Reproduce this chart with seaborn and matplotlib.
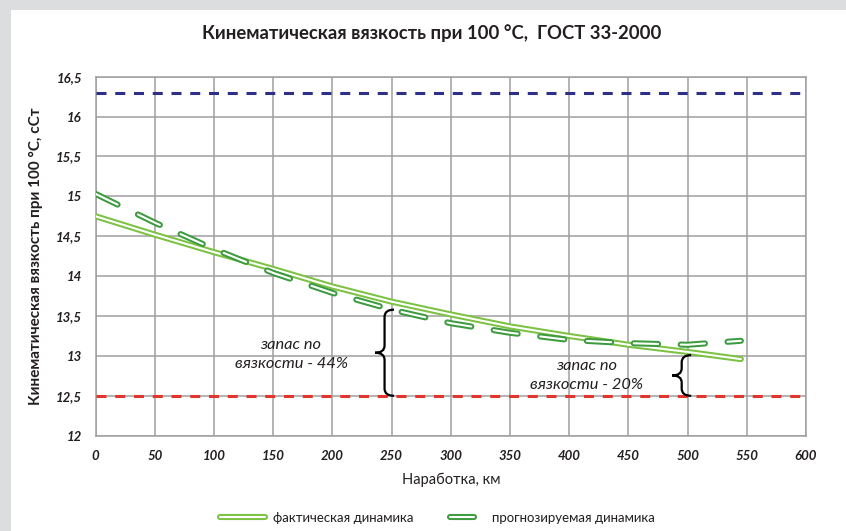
import numpy as np
import pandas as pd
import matplotlib
matplotlib.use("Agg")
import matplotlib.pyplot as plt
import matplotlib.patheffects as pe
from matplotlib.lines import Line2D
from matplotlib.patches import Rectangle, PathPatch
from matplotlib.path import Path
from matplotlib.legend_handler import HandlerBase
from matplotlib.ticker import FuncFormatter
import seaborn as sns

# ---------------- data ----------------
mileage_fact = [0, 50, 100, 150, 200, 250, 300, 350, 400, 450, 500, 545]
visc_fact = [14.75, 14.52, 14.30, 14.09, 13.87, 13.68, 13.52, 13.37, 13.25, 13.14, 13.05, 12.96]

mileage_forecast = [0, 50, 100, 150, 200, 250, 300, 350, 400, 450, 500, 545]
visc_forecast = [15.03, 14.67, 14.34, 14.04, 13.79, 13.58, 13.41, 13.29, 13.20, 13.16, 13.14, 13.19]

limit_max = 16.3
limit_min = 12.5

x_ticks = [0, 50, 100, 150, 200, 250, 300, 350, 400, 450, 500, 550, 600]
y_ticks = [12, 12.5, 13, 13.5, 14, 14.5, 15, 15.5, 16, 16.5]

title = "Кинематическая вязкость при 100 °С,  ГОСТ 33-2000"
ylabel = "Кинематическая вязкость при 100 °С, сСт"
xlabel = "Наработка, км"
label_fact = "фактическая динамика"
label_forecast = "прогнозируемая динамика"
note1 = "запас по\nвязкости - 44%"
note2 = "запас по\nвязкости - 20%"
brace1_x, brace1_top = 244, 13.58
brace2_x, brace2_top = 495, 13.01
note1_xy = (165, 13.02)
note2_xy = (415, 12.75)

# ---------------- style ----------------
sns.set_theme(style="white")
plt.rcParams["font.family"] = ["Lato", "DejaVu Sans"]
plt.rcParams["lines.scale_dashes"] = False

TXT = "#231f20"
GRID = "#9f9f9f"
GREEN_FACT = "#7cc242"
GREEN_FC = "#3d9b3f"

fig = plt.figure(figsize=(8.46, 5.31), dpi=100)
fig.patch.set_facecolor("#dcdddf")
fig.patches.append(Rectangle((11 / 846, 0), 1, 1 - 10 / 531, transform=fig.transFigure,
                             facecolor="white", edgecolor="none", zorder=-10))

ax = fig.add_axes([95.7 / 846, 1 - 435.7 / 531, (806 - 95.7) / 846, (435.7 - 76.7) / 531])
ax.set_facecolor("white")

df_fact = pd.DataFrame({"x": mileage_fact, "y": visc_fact})
df_fc = pd.DataFrame({"x": mileage_forecast, "y": visc_forecast})

sns.lineplot(data=df_fact, x="x", y="y", ax=ax, color="white", linewidth=1.5,
             solid_capstyle="round", label=label_fact, zorder=5,
             path_effects=[pe.Stroke(linewidth=4.4, foreground=GREEN_FACT), pe.Normal()])
sns.lineplot(data=df_fc, x="x", y="y", ax=ax, color="white", linewidth=1.5,
             linestyle=(0, (17.5, 16.3)), dash_capstyle="round", label=label_forecast, zorder=6,
             path_effects=[pe.Stroke(linewidth=4.4, foreground=GREEN_FC), pe.Normal()])

ax.axhline(limit_max, color="#2e2f86", linewidth=2.2, linestyle=(0, (7.2, 6.3)), zorder=4)
ax.axhline(limit_min, color="#e3352b", linewidth=2.2, linestyle=(0, (7.2, 6.3)), zorder=4)

ax.set_xlim(0, 600)
ax.set_ylim(12, 16.5)
ax.set_xticks(x_ticks)
ax.set_yticks(y_ticks)
ax.grid(True, color=GRID, linewidth=1.1)
for s in ax.spines.values():
    s.set_color(GRID)
    s.set_linewidth(1.1)
ax.tick_params(axis="both", which="both", direction="out", length=4, width=1.1, color=GRID,
               labelsize=9.5, labelcolor=TXT, pad=6)
ax.xaxis.set_major_formatter(FuncFormatter(lambda v, p: f"{v:g}"))
ax.yaxis.set_major_formatter(FuncFormatter(lambda v, p: f"{v:g}".replace(".", ",")))
for lab in ax.get_xticklabels() + ax.get_yticklabels():
    lab.set_fontweight("bold")
    lab.set_fontstyle("italic")

ax.set_xlabel(xlabel, fontsize=10.5, color=TXT, labelpad=8)
ax.set_ylabel(ylabel, fontsize=11, fontweight="bold", color=TXT, labelpad=9)
fig.text(432 / 846, 1 - 33 / 531, title, ha="center", va="center", fontsize=13.3,
         fontweight="bold", color=TXT)


# ---------------- braces & notes ----------------
def brace(ax, x, y0, y1, w=8.0, r=0.09):
    ym = (y0 + y1) / 2
    verts = [(x + w, y1), (x, y1), (x, y1 - r), (x, ym + r), (x, ym), (x - w, ym),
             (x, ym), (x, ym - r), (x, y0 + r), (x, y0), (x + w, y0)]
    codes = [Path.MOVETO, Path.CURVE3, Path.CURVE3, Path.LINETO, Path.CURVE3, Path.CURVE3,
             Path.CURVE3, Path.CURVE3, Path.LINETO, Path.CURVE3, Path.CURVE3]
    ax.add_patch(PathPatch(Path(verts, codes), facecolor="none", edgecolor="black",
                           linewidth=1.6, zorder=7))


brace(ax, brace1_x, limit_min, brace1_top)
brace(ax, brace2_x, limit_min, brace2_top)
ax.text(*note1_xy, note1, ha="center", va="center", fontsize=11.8, style="italic",
        color=TXT, linespacing=1.45, zorder=8)
ax.text(*note2_xy, note2, ha="center", va="center", fontsize=11.8, style="italic",
        color=TXT, linespacing=1.45, zorder=8)


# ---------------- legend ----------------
class ShortHandler(HandlerBase):
    def __init__(self, frac=1.0, **kw):
        super().__init__(**kw)
        self.frac = frac

    def create_artists(self, legend, orig_handle, xdescent, ydescent, width, height,
                       fontsize, trans):
        cx = width / 2 - xdescent
        half = width * self.frac / 2
        ln = Line2D([cx - half, cx + half], [height / 2 - ydescent] * 2,
                    color=orig_handle.get_color(), linewidth=orig_handle.get_linewidth(),
                    linestyle="-", solid_capstyle="round")
        ln.set_path_effects(orig_handle.get_path_effects())
        ln.set_transform(trans)
        return [ln]


lines = ax.get_lines()
h_fact, h_fc = lines[0], lines[1]
if ax.legend_:
    ax.legend_.remove()
fig.legend([h_fact, h_fc], [label_fact, label_forecast],
           handler_map={h_fact: ShortHandler(0.95), h_fc: ShortHandler(0.5)},
           loc="center", bbox_to_anchor=(437 / 846, 1 - 518 / 531), ncol=2, frameon=False,
           fontsize=9.5, handlelength=3.6, handletextpad=0.5, columnspacing=1.9,
           labelcolor=TXT)

fig.savefig("out.png", dpi=100, facecolor=fig.get_facecolor())
